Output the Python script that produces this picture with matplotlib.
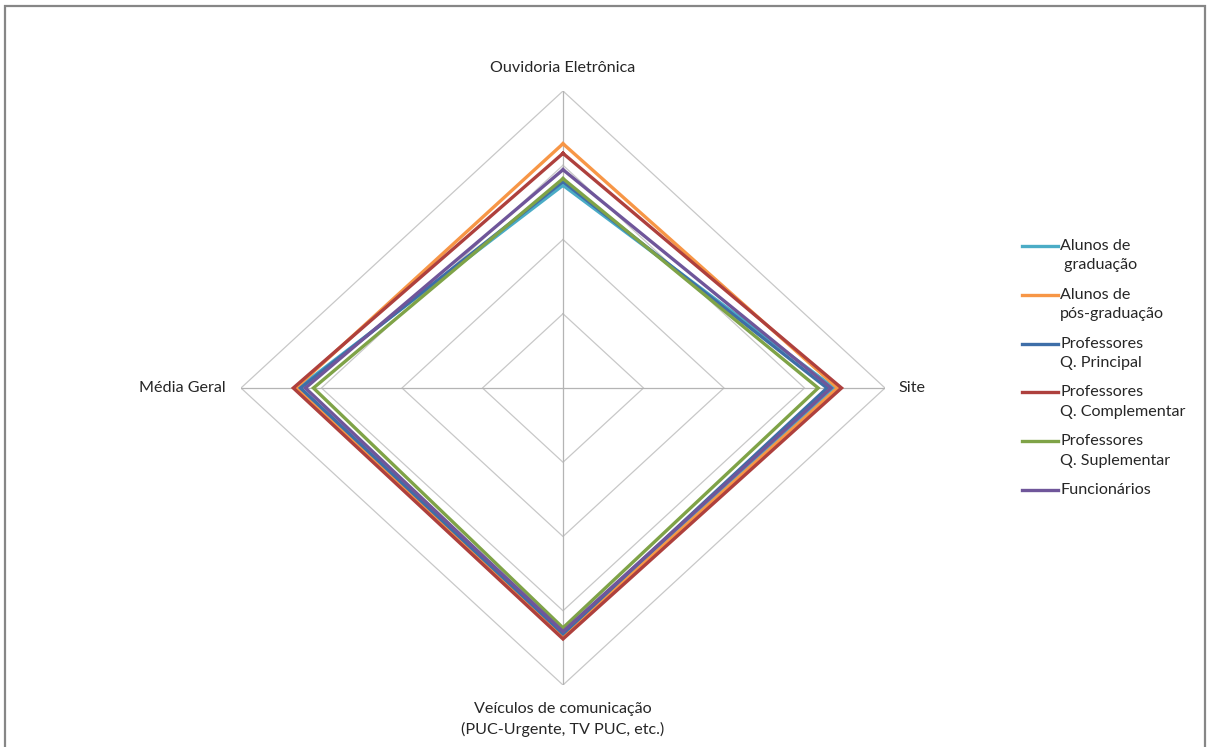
import numpy as np
import matplotlib
matplotlib.use("Agg")
import matplotlib.pyplot as plt
from matplotlib.lines import Line2D
from matplotlib.patches import Rectangle

# eixos do radar (sentido horario, a partir do topo)
eixos = ["Ouvidoria Eletrônica", "Site",
         "Veículos de comunicação\n(PUC-Urgente, TV PUC, etc.)", "Média Geral"]

grupos = ["Alunos de\n graduação", "Alunos de\npós-graduação",
          "Professores\nQ. Principal", "Professores\nQ. Complementar",
          "Professores\nQ. Suplementar", "Funcionários"]

# valores (Ouvidoria, Site, Veiculos, Media Geral)
alunos_grad = [2.73, 3.37, 3.32, 3.29]
alunos_pos = [3.29, 3.41, 3.34, 3.32]
prof_principal = [2.78, 3.28, 3.31, 3.26]
prof_complementar = [3.16, 3.46, 3.38, 3.35]
prof_suplementar = [2.82, 3.17, 3.23, 3.10]
funcionarios = [2.94, 3.33, 3.28, 3.20]

series = [alunos_grad, alunos_pos, prof_principal,
          prof_complementar, prof_suplementar, funcionarios]
cores = ["#4BACC6", "#F79646", "#3E6EA8", "#AE403D", "#7FA347", "#6F569A"]

escala_max = 4
aneis = [1, 2, 3, 4]

W, H = 1209, 747
fig = plt.figure(figsize=(W / 100, H / 100), dpi=100)
plt.rcParams['font.family'] = ['Lato', 'DejaVu Sans']

# area do radar em pixels: centro (563, 388), raio horizontal 322, vertical 297
cx, cy, rx, ry = 563, 388, 322, 297
ax = fig.add_axes([(cx - rx) / W, (H - cy - ry) / H, 2 * rx / W, 2 * ry / H])
ax.set_xlim(-escala_max, escala_max)
ax.set_ylim(-escala_max, escala_max)
ax.axis("off")

ang = np.linspace(0, 2 * np.pi, len(eixos), endpoint=False)
sx, sy = np.sin(ang), np.cos(ang)

def fechar(a):
    return np.append(a, a[0])

# grade em losango
for r in aneis:
    ax.plot(fechar(r * sx), fechar(r * sy), color="#C8C8C8", lw=0.9, zorder=1)
for i in range(len(eixos)):
    ax.plot([0, escala_max * sx[i]], [0, escala_max * sy[i]],
            color="#B4B4B4", lw=0.9, zorder=1)

for vals, cor in zip(series, cores):
    v = np.array(vals)
    ax.plot(fechar(v * sx), fechar(v * sy), color=cor, lw=2.4,
            solid_joinstyle="miter", zorder=3)

fs = 11.6
cor_txt = "#262626"
fig.text(563 / W, 1 - 68 / H, eixos[0], ha="center", va="center",
         fontsize=fs, color=cor_txt)
fig.text(898 / W, 1 - 388 / H, eixos[1], ha="left", va="center",
         fontsize=fs, color=cor_txt)
fig.text(563 / W, 1 - 702 / H, eixos[2], ha="center", va="top",
         fontsize=fs, color=cor_txt, linespacing=1.5)
fig.text(226 / W, 1 - 388 / H, eixos[3], ha="right", va="center",
         fontsize=fs, color=cor_txt)

# legenda manual (marca alinhada com a primeira linha do texto)
y0, passo = 246, 48.8
for k, (nome, cor) in enumerate(zip(grupos, cores)):
    yy = 1 - (y0 + k * passo) / H
    fig.add_artist(Line2D([1022 / W, 1058 / W], [yy, yy], color=cor, lw=2.4))
    fig.text(1060 / W, yy + 7 / H, nome, ha="left", va="top",
             fontsize=fs, color=cor_txt, linespacing=1.5)

# borda da area do grafico
fig.add_artist(Rectangle((5 / W, -0.01), 1200 / W, 1 - 6 / H + 0.01,
                         transform=fig.transFigure, fill=False,
                         edgecolor="#868686", lw=1.6))

fig.savefig("out.png", dpi=100)
